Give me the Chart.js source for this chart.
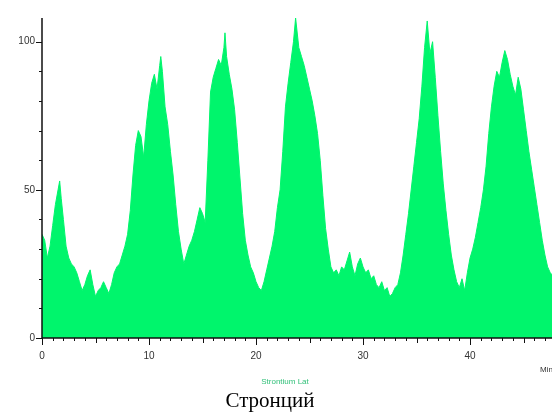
<!DOCTYPE html>
<html>
<head>
<meta charset="utf-8">
<script src="https://cdn.jsdelivr.net/npm/chart.js@4/dist/chart.umd.min.js"></script>
<style>
html,body{margin:0;padding:0;background:#fff;overflow:hidden;}
canvas{display:block;}
</style>
</head>
<body>
<canvas id="c" width="552" height="418"></canvas>
<script>
// retention time, minutes
const retentionMin = [
0,0.25,0.5,0.75,1.0,1.25,1.5,1.65,1.8,2.0,2.25,2.5,2.75,3.0,3.25,3.5,3.75,4.0,4.25,4.5,4.75,
5.0,5.25,5.5,5.75,6.0,6.25,6.5,6.75,7.0,7.25,7.5,7.75,8.0,8.25,8.5,8.75,9.0,9.25,9.5,9.75,
10.0,10.25,10.5,10.75,11.0,11.1,11.25,11.5,11.75,12.0,12.25,12.5,12.75,13.0,13.25,13.5,13.75,14.0,14.25,14.5,14.75,
15.0,15.25,15.5,15.75,16.0,16.25,16.5,16.75,17.0,17.1,17.25,17.5,17.75,18.0,18.25,18.5,18.75,19.0,19.25,19.5,19.75,
20.0,20.25,20.5,20.75,21.0,21.25,21.5,21.75,22.0,22.25,22.5,22.75,23.0,23.25,23.5,23.7,24.0,24.25,24.5,24.75,
25.0,25.25,25.5,25.75,26.0,26.25,26.5,26.75,27.0,27.25,27.5,27.75,28.0,28.25,28.5,28.75,29.0,29.25,29.5,29.75,
30.0,30.25,30.5,30.75,31.0,31.25,31.5,31.75,32.0,32.25,32.5,32.75,33.0,33.25,33.5,33.75,34.0,34.25,34.5,34.75,
35.0,35.25,35.5,35.75,36.0,36.25,36.5,36.75,37.0,37.25,37.5,37.75,38.0,38.25,38.5,38.75,39.0,39.25,39.5,39.75,
40.0,40.25,40.5,40.75,41.0,41.25,41.5,41.75,42.0,42.25,42.5,42.75,43.0,43.25,43.5,43.75,44.0,44.25,44.5,44.75,
45.0,45.25,45.5,45.75,46.0,46.25,46.5,46.75,47.0,47.25,47.5,47.75
];
// detector signal
const signal = [
35,33,27,31,38,45,50,53,47,40,31,27,25,24,22,19,16,18,21,23,18,
14,16,17,19,17,15,18,22,24,25,28,31,35,43,55,65,70,68,61,72,
80,86,89,84,92,95,90,78,72,63,55,45,36,30,25,28,31,33,36,40,44,
42,39,60,83,88,91,94,92,98,103,95,89,84,77,66,54,42,33,28,24,22,
19,17,16,19,23,27,31,36,44,50,63,78,86,93,100,108,98,95,92,88,
84,80,75,69,60,48,37,30,24,22,23,21,24,23,26,29,24,21,25,27,
24,22,23,20,21,18,17,19,16,17,14,15,17,18,22,28,35,42,50,58,
66,74,85,98,107,96,100,88,75,63,52,43,35,28,23,19,17,20,16,22,
27,30,34,39,44,50,58,69,78,85,90,88,93,97,94,89,85,82,88,84,
77,70,63,57,51,45,39,33,28,24,22,21
];
const xTickLabels = ["0","10","20","30","40"];
const xTickValues = [0,10,20,30,40];
const yTickLabels = ["0","50","100"];
const yTickValues = [0,50,100];
const xAxisUnit = "Min";
const traceName = "Strontium Lat";
const chartTitle = "Стронций";

const GREEN = "#00f56c";
const points = retentionMin.map((t, i) => ({x: t, y: signal[i]}));

const axesPlugin = {
  id: 'axes',
  afterDatasetsDraw(chart) {
    const ctx = chart.ctx;
    const xs = chart.scales.x, ys = chart.scales.y;
    const x0 = xs.getPixelForValue(0), y0 = ys.getPixelForValue(0);
    const yTop = ys.getPixelForValue(ys.max);
    ctx.save();
    ctx.strokeStyle = "#111";
    ctx.lineWidth = 1.5;
    ctx.beginPath();
    ctx.moveTo(x0, yTop); ctx.lineTo(x0, y0);
    ctx.moveTo(x0, y0); ctx.lineTo(chart.width, y0);
    ctx.stroke();
    ctx.lineWidth = 1;
    ctx.beginPath();
    for (let v = 0; v <= 100; v += 10) {
      const py = Math.round(ys.getPixelForValue(v)) + 0.5;
      const len = (v % 50 === 0) ? 6 : 3;
      ctx.moveTo(x0 - len, py); ctx.lineTo(x0, py);
    }
    for (let t = 0; t <= 47; t += 1) {
      const px = Math.round(xs.getPixelForValue(t)) + 0.5;
      const len = (t % 10 === 0) ? 7 : (t % 5 === 0 ? 5 : 3);
      ctx.moveTo(px, y0); ctx.lineTo(px, y0 + len);
    }
    ctx.stroke();
    ctx.fillStyle = "#333";
    ctx.font = "10px 'Liberation Sans', Arial, sans-serif";
    ctx.textAlign = "right"; ctx.textBaseline = "middle";
    yTickValues.forEach((v, i) => ctx.fillText(yTickLabels[i], x0 - 7, ys.getPixelForValue(v)));
    ctx.textAlign = "center"; ctx.textBaseline = "top";
    xTickValues.forEach((v, i) => ctx.fillText(xTickLabels[i], xs.getPixelForValue(v), y0 + 13));
    ctx.font = "8px 'Liberation Sans', Arial, sans-serif";
    ctx.textAlign = "left";
    ctx.fillText(xAxisUnit, 540, y0 + 28);
    ctx.fillStyle = "#33c07a";
    ctx.textAlign = "center";
    ctx.fillText(traceName, 285, y0 + 40);
    ctx.fillStyle = "#000";
    ctx.font = "21px 'Liberation Serif', 'Times New Roman', serif";
    ctx.fillText(chartTitle, 270, y0 + 53);
    ctx.restore();
  }
};

new Chart(document.getElementById('c'), {
  type: 'line',
  data: {
    datasets: [{
      label: traceName,
      data: points,
      fill: 'origin',
      backgroundColor: GREEN,
      borderColor: GREEN,
      borderWidth: 1,
      pointRadius: 0,
      tension: 0
    }]
  },
  options: {
    responsive: false,
    animation: false,
    layout: { padding: { left: 42, right: 0, top: 18, bottom: 80 } },
    scales: {
      x: { type: 'linear', min: 0, max: 47.66, display: false },
      y: { min: 0, max: 108, display: false }
    },
    plugins: { legend: { display: false }, tooltip: { enabled: false } }
  },
  plugins: [axesPlugin]
});
</script>
</body>
</html>
